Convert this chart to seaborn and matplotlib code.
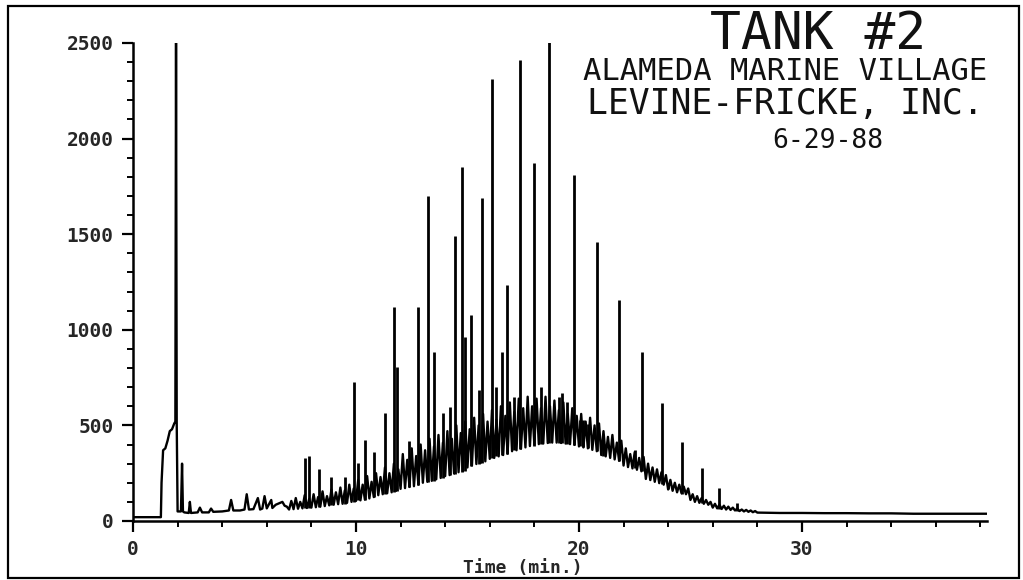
import pandas as pd
import matplotlib
matplotlib.use('Agg')
import matplotlib.pyplot as plt
from matplotlib.patches import Rectangle
from matplotlib.ticker import MultipleLocator
import seaborn as sns

# solvent front (min, response)
front_t = [0.0, 1.25, 1.28, 1.35, 1.45, 1.55, 1.65, 1.75, 1.85, 1.90, 1.93, 1.96, 2.00,
           2.15, 2.20, 2.24, 2.30]
front_v = [20, 20, 200, 370, 380, 420, 470, 480, 510, 520, 2500, 520, 50,
           50, 300, 50, 45]

# flat stretch before the hump
early_t = [2.5, 2.55, 2.6, 2.9, 3.0, 3.1, 3.4, 3.5, 3.6, 4.0, 4.3, 4.4, 4.5, 4.8, 5.0,
           5.1, 5.2, 5.4, 5.6, 5.7, 5.8, 5.9, 6.0, 6.2, 6.25, 6.4, 6.6, 6.7, 6.8, 6.9]
early_v = [42, 100, 42, 45, 70, 45, 45, 65, 48, 50, 55, 110, 55, 55, 60,
           140, 60, 62, 120, 60, 65, 130, 66, 110, 68, 85, 95, 100, 80, 75]

# unresolved hump, read low / high through the noise band
hump_t = [7.0, 7.1, 7.2, 7.3, 7.4, 7.5, 7.6, 7.7, 7.8, 7.9,
          8.0, 8.1, 8.2, 8.3, 8.4, 8.5, 8.6, 8.7, 8.8, 8.9,
          9.0, 9.1, 9.2, 9.3, 9.4, 9.5, 9.6, 9.7, 9.8, 9.9,
          10.0, 10.1, 10.2, 10.3, 10.4, 10.5, 10.6, 10.7, 10.8, 10.9,
          11.0, 11.1, 11.2, 11.3, 11.4, 11.5, 11.6, 11.7, 11.8, 11.9,
          12.0, 12.1, 12.2, 12.3, 12.4, 12.5, 12.6, 12.7, 12.8, 12.9,
          13.0, 13.1, 13.2, 13.3, 13.4, 13.5, 13.6, 13.7, 13.8, 13.9,
          14.0, 14.1, 14.2, 14.3, 14.4, 14.5, 14.6, 14.7, 14.8, 14.9,
          15.0, 15.1, 15.2, 15.3, 15.4, 15.5, 15.6, 15.7, 15.8, 15.9,
          16.0, 16.1, 16.2, 16.3, 16.4, 16.5, 16.6, 16.7, 16.8, 16.9,
          17.0, 17.1, 17.2, 17.3, 17.4, 17.5, 17.6, 17.7, 17.8, 17.9,
          18.0, 18.1, 18.2, 18.3, 18.4, 18.5, 18.6, 18.7, 18.8, 18.9,
          19.0, 19.1, 19.2, 19.3, 19.4, 19.5, 19.6, 19.7, 19.8, 19.9,
          20.0, 20.1, 20.2, 20.3, 20.4, 20.5, 20.6, 20.7, 20.8, 20.9,
          21.0, 21.1, 21.2, 21.3, 21.4, 21.5, 21.6, 21.7, 21.8, 21.9,
          22.0, 22.1, 22.2, 22.3, 22.4, 22.5, 22.6, 22.7, 22.8, 22.9,
          23.0, 23.1, 23.2, 23.3, 23.4, 23.5, 23.6, 23.7, 23.8, 23.9,
          24.0, 24.1, 24.2, 24.3, 24.4, 24.5, 24.6, 24.7, 24.8, 24.9,
          25.0, 25.1, 25.2, 25.3, 25.4, 25.5, 25.6, 25.7, 25.8, 25.9,
          26.0, 26.1, 26.2, 26.3, 26.4, 26.5, 26.6, 26.7, 26.8, 26.9,
          27.0, 27.1, 27.2, 27.3, 27.4, 27.5, 27.6, 27.7, 27.8, 27.9]
hump_v = [60, 105, 62, 120, 64, 100, 66, 135, 68, 115,
          70, 140, 72, 125, 75, 155, 78, 130, 82, 165,
          85, 150, 88, 175, 90, 160, 95, 190, 100, 170,
          105, 215, 108, 190, 112, 235, 118, 205, 125, 250,
          135, 230, 140, 280, 145, 250, 150, 300, 158, 270,
          168, 350, 172, 320, 178, 380, 182, 340, 190, 400,
          200, 370, 205, 430, 210, 390, 218, 450, 225, 410,
          235, 470, 240, 430, 248, 500, 255, 460, 262, 520,
          280, 480, 290, 540, 298, 500, 305, 560, 312, 520,
          325, 580, 330, 530, 338, 600, 345, 550, 352, 620,
          365, 570, 370, 640, 378, 590, 385, 650, 392, 600,
          400, 640, 402, 590, 405, 650, 408, 600, 410, 630,
          410, 580, 408, 620, 405, 560, 402, 590, 398, 550,
          390, 560, 385, 520, 380, 540, 372, 500, 365, 510,
          345, 470, 338, 440, 330, 450, 322, 410, 315, 420,
          290, 380, 282, 350, 275, 360, 268, 330, 260, 335,
          220, 300, 214, 280, 205, 270, 198, 255, 190, 240,
          165, 215, 158, 200, 150, 190, 145, 180, 140, 170,
          110, 140, 100, 130, 95, 120, 90, 110, 85, 100,
          70, 90, 66, 85, 63, 80, 60, 75, 58, 70,
          55, 65, 52, 60, 50, 58, 48, 55, 46, 52]

tail_t = [28.0, 29.0, 30.0, 31.0, 32.0, 33.0, 34.0, 35.0, 36.0, 37.0, 38.3]
tail_v = [44, 42, 42, 41, 41, 40, 40, 38, 38, 38, 38]

# resolved peaks: apex and foot
peak_t = [7.7, 7.9, 8.35, 8.9, 9.5, 9.9, 10.1, 10.4, 10.8, 11.3, 11.7, 11.85, 12.4,
          12.8, 13.23, 13.5, 13.9, 14.2, 14.42, 14.75, 14.87, 15.15, 15.5, 15.65,
          16.1, 16.3, 16.55, 16.77, 17.1, 17.37, 17.97, 18.3, 18.64, 19.09, 19.24,
          19.45, 19.76, 20.05, 20.2, 20.4, 20.81, 21.1, 21.8, 22.5, 22.82, 23.72,
          24.0, 24.6, 25.5, 26.3, 27.1]
peak_top = [330, 340, 271, 231, 231, 727, 302, 424, 362, 565, 1121, 807, 420,
            1118, 1700, 886, 565, 598, 1490, 1850, 964, 1077, 685, 1690,
            2310, 700, 886, 1234, 650, 2410, 1870, 700, 2505, 650, 670,
            620, 1810, 528, 528, 508, 1460, 450, 1156, 371, 886, 616,
            199, 413, 277, 173, 94]
peak_foot = [66, 68, 75, 82, 90, 100, 108, 112, 125, 140, 150, 158, 178,
             190, 205, 210, 225, 240, 248, 255, 262, 290, 300, 305,
             330, 338, 345, 352, 370, 378, 392, 402, 408, 410, 408,
             405, 398, 390, 385, 380, 365, 340, 315, 275, 260, 195,
             165, 140, 92, 65, 52]

trace = pd.DataFrame({
    'time': front_t + early_t + hump_t + tail_t,
    'response': front_v + early_v + hump_v + tail_v,
})

sns.set_style('ticks')
mono = ['DejaVu Sans Mono', 'DejaVu Sans']

fig = plt.figure(figsize=(10.23, 5.8), dpi=100)
ax = fig.add_axes([133 / 1023, 1 - 521 / 580, 854 / 1023, 478 / 580])

sns.lineplot(data=trace, x='time', y='response', sort=False, estimator=None,
             color='black', linewidth=1.7, ax=ax)
ax.vlines(peak_t, peak_foot, peak_top, color='black', linewidth=2.0)

ax.set_xlim(0, 38.3)
ax.set_ylim(0, 2500)
ax.xaxis.set_major_locator(MultipleLocator(10))
ax.xaxis.set_minor_locator(MultipleLocator(2))
ax.yaxis.set_major_locator(MultipleLocator(500))
ax.yaxis.set_minor_locator(MultipleLocator(100))
ax.tick_params(which='major', direction='out', length=8, width=1.6, color='black',
               labelsize=14, pad=6)
ax.tick_params(which='minor', direction='out', length=4, width=1.4, color='black')
for lab in ax.get_xticklabels() + ax.get_yticklabels():
    lab.set_family(mono)
    lab.set_weight('bold')
for side in ['top', 'right']:
    ax.spines[side].set_visible(False)
for side in ['left', 'bottom']:
    ax.spines[side].set_color('black')
    ax.spines[side].set_linewidth(1.8)
ax.set_xlabel('')
ax.set_ylabel('')

fig.text(523 / 1023, 1 - 568 / 580, 'Time (min.)', ha='center', va='center',
         family=mono, fontsize=13, weight='bold')

# header block
fig.text(818 / 1023, 1 - 35 / 580, 'TANK #2', ha='center', va='center',
         family=mono, fontsize=37, color='#111111')
fig.text(785 / 1023, 1 - 71 / 580, 'ALAMEDA MARINE VILLAGE', ha='center', va='center',
         family=mono, fontsize=22, color='#111111')
fig.text(785 / 1023, 1 - 104 / 580, 'LEVINE-FRICKE, INC.', ha='center', va='center',
         family=mono, fontsize=25, color='#111111')
fig.text(828 / 1023, 1 - 141 / 580, '6-29-88', ha='center', va='center',
         family=mono, fontsize=19, color='#111111')

# page frame
fig.add_artist(Rectangle((8 / 1023, 2 / 580), 1011 / 1023, 572 / 580,
                         transform=fig.transFigure, fill=False,
                         edgecolor='black', linewidth=1.6))

fig.savefig('out.png', dpi=100, facecolor='white')
